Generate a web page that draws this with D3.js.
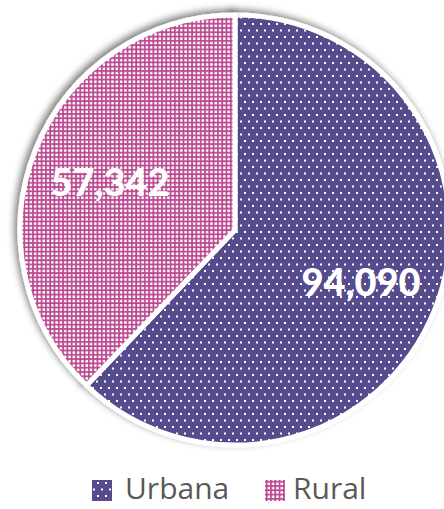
<!DOCTYPE html>
<html><head><meta charset="utf-8">
<script src="https://cdn.jsdelivr.net/npm/d3@7/dist/d3.min.js"></script>
<style>body{margin:0;background:#fff}svg{display:block}</style>
</head><body>
<script>
const categories = ["Urbana", "Rural"];
const values = [94090, 57342];
const labels = ["94,090", "57,342"];

const W = 444, H = 509;
const svg = d3.select("body").append("svg").attr("width", W).attr("height", H);
const defs = svg.append("defs");

// Urbana pattern: purple with staggered white dots
const p1 = defs.append("pattern").attr("id", "pat0").attr("patternUnits", "userSpaceOnUse")
  .attr("width", 8).attr("height", 13);
p1.append("rect").attr("width", 8).attr("height", 13).attr("fill", "#574b8d");
p1.append("rect").attr("x", 1).attr("y", 1).attr("width", 2).attr("height", 2).attr("fill", "#fff");
p1.append("rect").attr("x", 5).attr("y", 7.5).attr("width", 2).attr("height", 2).attr("fill", "#fff");

// Rural pattern: pink with dense white squares
const p2 = defs.append("pattern").attr("id", "pat1").attr("patternUnits", "userSpaceOnUse")
  .attr("width", 4.3).attr("height", 4.3);
p2.append("rect").attr("width", 4.3).attr("height", 4.3).attr("fill", "#bb4a90");
p2.append("rect").attr("x", 1).attr("y", 1).attr("width", 2.5).attr("height", 2.5).attr("fill", "#fff");

const f = defs.append("filter").attr("id", "sh").attr("x", "-20%").attr("y", "-20%").attr("width", "140%").attr("height", "140%");
f.append("feDropShadow").attr("dx", -3).attr("dy", -3).attr("stdDeviation", 3.5)
  .attr("flood-color", "#000").attr("flood-opacity", 0.5);

const cx = 235, cy = 230, r = 215;
const pie = d3.pie().sort(null).value(d => d)(values);
const arc = d3.arc().innerRadius(0).outerRadius(r);
const g = svg.append("g").attr("transform", `translate(${cx},${cy})`);
g.selectAll("path").data(pie).join("path")
  .attr("d", arc)
  .attr("fill", (d, i) => `url(#pat${i})`)
  .attr("stroke", "#fff").attr("stroke-width", 5).attr("stroke-linejoin", "round")
  .attr("filter", "url(#sh)");

const labelPos = [[126, 51], [-125, -49]];
g.selectAll("text.lbl").data(pie).join("text")
  .attr("class", "lbl")
  .attr("x", (d, i) => labelPos[i][0]).attr("y", (d, i) => labelPos[i][1])
  .attr("text-anchor", "middle").attr("dominant-baseline", "central")
  .attr("font-family", "Lato, 'Open Sans', sans-serif").attr("font-weight", 900)
  .attr("font-size", 38).attr("fill", "#fff")
  .text((d, i) => labels[i]);

// Legend
const leg = svg.append("g");
const legItems = [[92, 125], [265, 293]];
categories.forEach((c, i) => {
  leg.append("rect").attr("x", legItems[i][0]).attr("y", 480).attr("width", 20).attr("height", 21)
    .attr("fill", `url(#pat${i})`);
  leg.append("text").attr("x", legItems[i][1]).attr("y", 499)
    .attr("font-family", "'Open Sans', sans-serif").attr("font-size", 30).attr("fill", "#595959")
    .text(c);
});
</script>
</body></html>
